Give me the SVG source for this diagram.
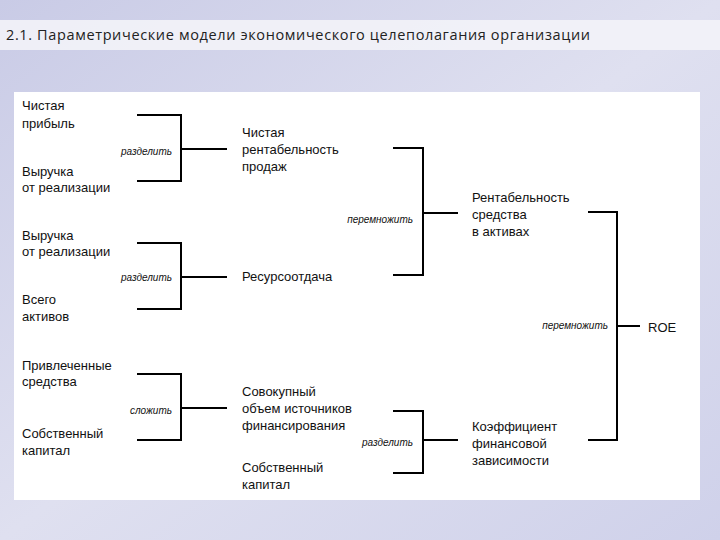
<svg xmlns="http://www.w3.org/2000/svg" width="720" height="540" viewBox="0 0 720 540">
<defs>
<linearGradient id="bg" x1="0" y1="0" x2="1" y2="1">
<stop offset="0" stop-color="#c9cbe6"/><stop offset="0.5" stop-color="#dfe0f0"/><stop offset="1" stop-color="#cfd1ea"/>
</linearGradient>
<style>
.t{font-family:"Liberation Sans",Arial,sans-serif;font-size:13px;fill:#111}
.op{font-family:"Liberation Sans",Arial,sans-serif;font-size:10px;font-style:italic;fill:#111;text-anchor:end}
.c{fill:none;stroke:#000;stroke-width:2}
</style>
</defs>
<rect width="720" height="540" fill="url(#bg)"/>
<rect x="0" y="20" width="720" height="30" fill="#f3f3f8" opacity="0.9"/>
<text x="6" y="40" textLength="584" style="font-family:'Open Sans','DejaVu Sans',sans-serif;font-size:14.5px;fill:#222">2.1. Параметрические модели экономического целеполагания организации</text>
<rect x="14" y="92" width="686" height="408" fill="#ffffff"/>
<g id="connectors">
<path class="c" d="M137 115H181V181H137M181 149H227"/>
<path class="c" d="M137 243H181V309H137M181 277H227"/>
<path class="c" d="M137 374H181V440H137M181 408H227"/>
<path class="c" d="M393 148H423V275H393M423 213H458"/>
<path class="c" d="M393 411H423V473H393M423 440H458"/>
<path class="c" d="M588 212H617V440H588M617 326H640"/>
<text class="op" x="172" y="155">разделить</text>
<text class="op" x="172" y="281">разделить</text>
<text class="op" x="172" y="414">сложить</text>
<text class="op" x="413" y="223">перемножить</text>
<text class="op" x="413" y="446">разделить</text>
<text class="op" x="608" y="329">перемножить</text>
</g>
<g id="n1"><text class="t" x="22" y="110">Чистая</text><text class="t" x="22" y="128">прибыль</text></g>
<g id="n2"><text class="t" x="22" y="176">Выручка</text><text class="t" x="22" y="192">от реализации</text></g>
<g id="n3"><text class="t" x="22" y="240">Выручка</text><text class="t" x="22" y="256">от реализации</text></g>
<g id="n4"><text class="t" x="22" y="304">Всего</text><text class="t" x="22" y="321">активов</text></g>
<g id="n5"><text class="t" x="22" y="370">Привлеченные</text><text class="t" x="22" y="386">средства</text></g>
<g id="n6"><text class="t" x="22" y="438">Собственный</text><text class="t" x="22" y="455">капитал</text></g>
<g id="n7"><text class="t" x="242" y="137">Чистая</text><text class="t" x="242" y="154">рентабельность</text><text class="t" x="242" y="171">продаж</text></g>
<g id="n8"><text class="t" x="242" y="281">Ресурсоотдача</text></g>
<g id="n9"><text class="t" x="242" y="396">Совокупный</text><text class="t" x="242" y="413">объем источников</text><text class="t" x="242" y="430">финансирования</text></g>
<g id="n10"><text class="t" x="242" y="472">Собственный</text><text class="t" x="242" y="489">капитал</text></g>
<g id="n11"><text class="t" x="472" y="202">Рентабельность</text><text class="t" x="472" y="219">средства</text><text class="t" x="472" y="236">в активах</text></g>
<g id="n12"><text class="t" x="472" y="431">Коэффициент</text><text class="t" x="472" y="448">финансовой</text><text class="t" x="472" y="465">зависимости</text></g>
<g id="n13"><text class="t" x="648" y="332">ROE</text></g>
</svg>
